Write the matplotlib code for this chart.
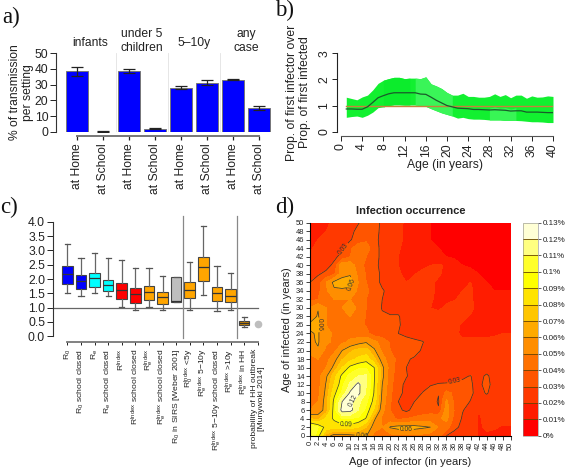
import colorsys
import numpy as np
import matplotlib
matplotlib.use('Agg')
import matplotlib.pyplot as plt
from matplotlib.colors import ListedColormap, BoundaryNorm

plt.rcParams['font.family'] = ['Liberation Sans', 'DejaVu Sans']
plt.rcParams['mathtext.fontset'] = 'custom'
plt.rcParams['mathtext.rm'] = 'Liberation Sans'
plt.rcParams['mathtext.it'] = 'Liberation Sans'
plt.rcParams['mathtext.bf'] = 'Liberation Sans:bold'
plt.rcParams['mathtext.default'] = 'rm'

# ---- panel a
setting_labels = ['at Home', 'at School'] * 4
share_values = [38.5, 0.1, 38.5, 1.8, 28.0, 31.2, 33.0, 15.0]
share_low = [35.5, 0.0, 37.5, 1.5, 27.0, 29.5, 32.7, 13.7]
share_high = [41.0, 0.2, 40.0, 2.1, 29.0, 33.0, 33.5, 16.5]
group_labels = ['infants', 'under 5\nchildren', '5\u201310y', 'any\ncase']

# ---- panel b
ages = list(range(1, 41))
band_upper = [1.32, 1.27, 1.22, 1.33, 1.4, 1.6, 1.85, 1.97, 2.03, 2.08, 2.08, 2.03, 2.05, 2.05, 2.03, 2.1,
              1.83, 1.75, 1.65, 1.5, 1.4, 1.4, 1.47, 1.35, 1.35, 1.32, 1.32, 1.35, 1.45, 1.35, 1.42, 1.3,
              1.4, 1.4, 1.28, 1.37, 1.32, 1.33, 1.37, 1.35]
band_lower = [.55, .58, .6, .55, .63, .75, .92, .95, 1.0, 1.03, 1.03, 1.02, 1.02, 1.02, 1.0, .97, .88, .8,
              .72, .66, .6, .52, .55, .5, .48, .48, .47, .45, .45, .45, .43, .43, .43, .42, .4, .38, .38,
              .37, .35, .35]
ratio_mean = [.87, .87, .86, .86, .95, 1.12, 1.3, 1.38, 1.45, 1.49, 1.49, 1.49, 1.49, 1.49, 1.44, 1.43,
              1.32, 1.2, 1.1, 1.0, .95, .9, .89, .88, .85, .85, .84, .83, .84, .83, .82, .79, .8, .8,
              .75, .75, .75, .74, .73, .73]

# ---- panel c
box_labels = [r'$R_0$', r'$R_0$ school closed', r'$R_e$', r'$R_e$ school closed',
              r'$R^{Index}$', r'$R^{Index}$ school closed', r'$R_e^{Index}$',
              r'$R_e^{Index}$ school closed', r'$R_0$ in SIRS [Weber 2001]',
              r'$R_0^{Index}$ <5y', r'$R_e^{Index}$ 5$-$10y',
              r'$R_e^{Index}$ 5$-$10y school closed', r'$R_e^{Index}$ >10y',
              r'$R_e^{Index}$ in HH', 'probability of HH outbreak\n[Munywoki 2014]']
box_q1 = [1.84, 1.65, 1.73, 1.57, 1.30, 1.17, 1.27, 1.14, 1.20, 1.32, 1.94, 1.22, 1.18, 0.38]
box_med = [2.18, 1.92, 2.02, 1.80, 1.60, 1.48, 1.55, 1.38, 1.22, 1.63, 2.43, 1.50, 1.42, 0.47]
box_q3 = [2.45, 2.14, 2.22, 1.98, 1.87, 1.67, 1.77, 1.56, 2.08, 1.90, 2.78, 1.73, 1.64, 0.55]
box_lo = [1.50, 1.42, 1.50, 1.42, 1.03, 0.93, 1.02, 0.92, 1.20, 0.93, 1.45, 0.87, 0.93, 0.33]
box_hi = [3.23, 2.75, 2.90, 2.72, 2.65, 2.40, 2.40, 2.12, 2.08, 2.60, 3.85, 2.47, 2.20, 0.69]
box_colors = ['#0000FF', '#0000FF', '#00FFFF', '#00FFFF', '#FF0000', '#FF0000', '#FFA500', '#FFA500',
              '#BEBEBE', '#FFA500', '#FFA500', '#FFA500', '#FFA500', '#CD8500']
outbreak_point = 0.43

# ---- panel d (units of 0.01 %), rows from age 50 down to age 0
infector_ages = list(range(0, 51, 2))
infected_ages = list(range(50, -1, -2))
occurrence = [
 [1.5,1.5,1.8,2.2,2.4,2.6,2.95,3.3,3.4,2.8,2.5,2.3,1.8,1.5,1.2,1,1,.8,.8,.8,.8,.8,.8,.8,.8,.8],
 [1.5,1.6,2,2.4,2.6,2.8,3.2,3.6,3.3,2.8,2.5,2.2,1.8,1.5,1.2,1,1,.8,.8,.8,.8,.8,.8,.8,.8,.8],
 [1.7,2,2.3,2.5,2.7,2.9,3.5,3.8,3.3,2.7,2.5,2.2,1.8,1.5,1.2,1,1,.9,.8,.8,.8,.8,.8,.8,.8,.8],
 [1.9,2.2,2.4,2.6,2.8,3.8,4.6,4.6,3.3,2.8,2.5,2.1,1.7,1.5,1.3,1.1,1,.9,.8,.8,.8,.8,.8,.8,.8,.8],
 [2.1,2.3,2.5,2.8,3.3,4,4.3,4,3.3,2.8,2.4,2,1.7,1.5,1.4,1.3,1.2,1,.9,.8,.8,.8,.8,.8,.8,.8],
 [2.3,2.5,2.7,3.2,5.8,5.7,4.4,3.8,3.3,2.7,2.3,2,1.7,1.7,1.8,2,2.1,1.9,1.3,1,.9,.9,.8,.8,.8,.8],
 [2.6,2.9,3.2,3.8,5.6,5.9,4.8,3.9,3.4,2.8,2.5,2.1,1.8,1.95,2.2,2.2,2.2,1.6,1.3,1.2,1.2,1,.9,.9,.9,.9],
 [3,3.4,5,6.3,6.5,6.4,5,4,3.4,2.8,2.6,2.3,2,2.2,2.4,2.3,1.7,1.5,1.4,1.6,2,1.4,1,1,1,1],
 [3.4,3.7,4.8,5.8,5.8,5.7,4.8,4.2,3.6,3.1,2.7,2.5,2.3,2.3,2.4,2.2,1.8,1.7,1.7,2,2.2,1.5,1.1,1,1,1],
 [3.7,4,4.6,5,5,5,4.6,4,3.6,3,2.7,2.5,2.4,2.3,2.3,2.1,1.8,1.9,1.95,2.2,2.2,1.4,1.2,1.1,1.1,1.1],
 [5,5.95,5,4.6,5,5.5,4.8,4,3.4,2.95,2.8,2.6,2.4,2.3,2.2,2,1.9,2.1,2.3,2.4,2.3,1.6,1.3,1.2,1.2,1.2],
 [5.5,6.1,5,4.6,4.8,5,4.6,3.9,3.3,3.1,3.05,3.1,2.5,2.4,2.2,2.1,2.2,2.4,2.4,2.2,1.9,1.5,1.4,1.4,1.3,1.3],
 [6.2,6.2,5,4.8,4.6,4.6,4.5,3.9,3.2,3.2,3.3,3.1,2.7,2.5,2.4,2.3,2.4,2.4,2.2,1.9,1.7,1.6,1.6,1.6,1.6,1.5],
 [5.9,6.1,5.2,4.9,4.7,4.6,4.4,4.3,3.5,3.5,3.3,3,2.8,2.6,2.5,2.5,2.4,2.3,2.1,1.9,1.9,1.9,1.9,1.95,2,2],
 [5.8,6.1,5.2,4.8,4.8,5.2,5.6,5.9,5.3,4.5,3.9,3.05,3.3,3.2,3.05,2.7,2.6,2.4,2.1,2.1,2.1,2.1,2.1,2.1,2.1,2.1],
 [5.2,5.9,4.7,4.7,6,6.8,7.3,7.4,6.2,4.8,4,3.5,3.5,3.3,2.9,2.6,2.5,2.4,2.3,2.2,2.2,2.2,2.3,2.3,2.3,2.3],
 [4.8,5,4.6,5.6,6.9,7.6,8.2,8.6,7.2,5.5,4.3,3.8,3.1,2.9,2.8,2.7,2.7,2.4,2.3,2.2,2.3,2.3,2.3,2.3,2.3,2.3],
 [4.6,4.7,5,6.3,8,9.3,9.8,9.9,9,6.3,4.5,3.6,3,2.8,2.7,2.7,2.9,2.5,2.4,2.4,2.3,2.3,2.4,2.4,2.4,2.4],
 [4.5,4.6,5.8,7.6,9.3,10.3,11,11.2,9.1,6.3,4.4,3.4,3.05,2.7,2.7,2.7,2.7,2.6,2.8,2.9,3.03,2.6,3.2,2.5,2.4,2.4],
 [4.5,4.6,6.1,8,9.7,11.2,12.3,11,9,6,4.3,3.3,2.8,2.7,2.8,2.95,3.05,3.1,3.1,3.15,3.1,2.7,3.4,2.5,2.5,2.5],
 [4.5,4.7,6.3,8.7,10.2,12.2,12.3,10.9,8.9,5.8,4.2,3.2,2.8,2.7,3.02,3.3,3.05,4.3,3.8,3.5,3.2,2.6,3.1,2.5,2.5,2.5],
 [4.6,5,6.5,9.3,12,12.3,11.3,10.2,8.6,5.6,4.1,3,2.7,3,3.4,3.5,2.9,5.2,3.8,3.4,2.95,2.3,2.4,2.5,2.5,2.5],
 [5,5.4,6.4,9.5,12.5,12.4,11,9.7,7.8,5.3,4,3.2,2.8,3.3,3.6,3.7,3.1,5.5,3.9,3.05,2.7,2,2.2,2.4,2.4,2.4],
 [7,6.6,8.2,9.2,10,10,9.8,8.9,6.2,4.8,4.3,3.8,4,4.2,4.3,4.4,4.8,5.3,3.6,2.9,2.6,1.9,2.2,2.3,2.3,2.3],
 [11,10,8.6,8.3,8.5,8.5,8,7,5.5,5,6.1,6.4,6.4,6.4,6.2,6,4.9,4.5,3.2,2.8,2.5,1.9,2.1,2.1,1.9,1.9],
 [11,9.5,6.5,5.6,5.5,5.7,5.9,6.1,4.6,4.6,4.7,4.8,4.7,4.8,4.7,4.5,4.5,3,2.7,2.6,2.5,1.9,1.9,1.7,1.7,1.7],
]
occurrence_levels = list(range(0, 14))

W, H = 567.0, 467.0
GREY = '#555555'
TXT = '#222222'


def px_axes(left, top, right, bottom):
    return fig.add_axes([left / W, 1 - bottom / H, (right - left) / W, (bottom - top) / H])


def heat_colors(n):
    j = n // 4
    i = n - j
    cols = [colorsys.hsv_to_rgb(h, 1, 1) for h in np.linspace(0, 1 / 6, i)]
    cols += [colorsys.hsv_to_rgb(1 / 6, s, 1) for s in np.linspace(1 - 1 / (2 * j), 1 / (2 * j), j)]
    return cols


fig = plt.figure(figsize=(5.67, 4.67), dpi=100)
for lab, x, y in [('a)', 2, 23), ('b)', 275, 16), ('c)', 0, 213), ('d)', 275, 213)]:
    fig.text(x / W, 1 - y / H, lab, family='Liberation Serif', fontsize=16.5, color='#111111')

# ---------- a
ax = px_axes(56, 53.3, 272, 131.7)
xa = np.arange(8)
ax.bar(xa, share_values, width=0.82, color='#0000FF', edgecolor='#777777', linewidth=0.7)
ax.errorbar(xa, share_values,
            yerr=[np.array(share_values) - share_low, np.array(share_high) - share_values],
            fmt='none', ecolor='#222222', elinewidth=0.9, capsize=4.5, capthick=0.9)
ax.set_xlim(-0.808, 7.5)
ax.set_ylim(0, 50)
for s in ('top', 'right'):
    ax.spines[s].set_visible(False)
ax.spines['left'].set_bounds(0, 50)
ax.spines['left'].set_color('#333333')
ax.spines['bottom'].set_position(('outward', 3.3))
ax.spines['bottom'].set_bounds(0, 7)
ax.spines['bottom'].set_color('#777777')
ax.spines['bottom'].set_linewidth(1.4)
ax.set_xticks(xa, setting_labels, rotation=90)
ax.set_yticks(range(0, 51, 10))
ax.tick_params(axis='y', labelsize=8.7, length=4, width=0.7, pad=1.5, colors=TXT)
ax.tick_params(axis='x', labelsize=8.7, length=3, width=0.9, pad=2, colors=TXT)
ax.set_ylabel('% of transmission\nper setting', fontsize=8.7, color=TXT, labelpad=0.5, linespacing=1.15)
for xv in (1.5, 3.5, 5.5):
    ax.axvline(xv, color='#E2E2E2', lw=0.6, zorder=0)
for i, g in enumerate(group_labels):
    ax.text(0.5 + 2 * i, 52.5 if '\n' not in g else 49.5, g, ha='center', va='bottom', fontsize=8.7,
            color=TXT, linespacing=1.2, clip_on=False)

# ---------- b
ax = px_axes(337, 53.3, 553, 131.7)
age = np.array(ages)
up = np.array(band_upper)
lo = np.array(band_lower)
ax.fill_between(age, lo, up, color='#12F030', lw=0)
ax.fill_between(age, lo, up, where=(age >= 14) & (age <= 21), color='#3AF558', lw=0)
ax.fill_between(age, lo, up, where=(age >= 8) & (age <= 13), color='#0CEC2C', lw=0)
ax.fill_between(age, lo, (lo + up) / 2, where=(age >= 28) & (age <= 33), color='#38F555', lw=0)
ax.plot([1, 40], [1, 1], color='#C8803C', lw=1.0)
ax.plot(age, ratio_mean, color='#1A5A2A', lw=0.9)
ax.set_xlim(-0.75, 40)
ax.set_ylim(0, 3)
for s in ('top', 'right'):
    ax.spines[s].set_visible(False)
ax.spines['left'].set_bounds(0, 3)
ax.spines['left'].set_color('#222222')
ax.spines['bottom'].set_position(('outward', 3.3))
ax.spines['bottom'].set_bounds(0, 40)
ax.spines['bottom'].set_color('#555555')
ax.set_xticks(range(0, 41, 4))
ax.set_yticks(range(4))
ax.tick_params(axis='x', labelsize=8.7, length=3.5, width=0.7, pad=1.5, labelrotation=90, colors=TXT)
ax.tick_params(axis='y', labelsize=8.7, length=3.5, width=0.7, pad=1.5, labelrotation=90, colors=TXT)
for t in ax.get_yticklabels():
    t.set_va('center')
ax.set_xlabel('Age (in years)', fontsize=8.7, color=TXT, labelpad=1.5)
ax.set_ylabel('Prop. of first infector over\nProp. of first infected', fontsize=8.7, color=TXT,
              labelpad=5, linespacing=1.15)

# ---------- c
ax = px_axes(52.7, 221.7, 258, 336.3)
xc = np.arange(1, 16)
stats = [dict(med=m, q1=a, q3=b, whislo=l, whishi=h, fliers=[])
         for m, a, b, l, h in zip(box_med, box_q1, box_q3, box_lo, box_hi)]
bp = ax.bxp(stats, positions=xc[:14], widths=0.78, patch_artist=True, manage_ticks=False,
            whiskerprops=dict(color='#666666', lw=0.9), capprops=dict(color='#555555', lw=0.9),
            medianprops=dict(color='#333333', lw=0.9), boxprops=dict(edgecolor='#444444', lw=0.8), capwidths=0.38)
for patch, c in zip(bp['boxes'], box_colors):
    patch.set_facecolor(c)
ax.plot(xc[14:], [outbreak_point], 'o', color='#BEBEBE', ms=4.5, clip_on=False)
ax.set_xlim(1 - 14.6 / 13.5 * 1.0, 15.0 + 0.02)
ax.set_ylim(0, 4)
ax.axhline(1, color='#666666', lw=0.9, clip_on=False)
for xv in (9.5, 13.5):
    ax.plot([xv, xv], [-0.06, 4.2], color='#888888', lw=0.9, clip_on=False)
for s in ('top', 'right'):
    ax.spines[s].set_visible(False)
ax.spines['left'].set_bounds(0, 4)
ax.spines['left'].set_color('#333333')
ax.spines['bottom'].set_position(('outward', 4.4))
ax.spines['bottom'].set_bounds(1, 15)
ax.spines['bottom'].set_color('#777777')
ax.spines['bottom'].set_linewidth(1.3)
ax.set_yticks(np.arange(0, 4.1, 0.5), [f'{v:.1f}' for v in np.arange(0, 4.1, 0.5)])
ax.tick_params(axis='y', labelsize=8.7, length=4, width=0.7, pad=1.5, colors=TXT)
ax.set_xticks(xc, box_labels, rotation=90, ha='center', va='top', linespacing=1.05)
ax.tick_params(axis='x', labelsize=6.1, length=2.5, width=0.7, pad=2, colors=TXT)

# ---------- d
ax = px_axes(310, 222.7, 510.7, 435.7)
Z = np.array(occurrence, dtype=float)
levels = np.array(occurrence_levels, dtype=float)
cmap = ListedColormap(heat_colors(13))
norm = BoundaryNorm(levels, 13)
cf = ax.contourf(infector_ages, infected_ages, Z, levels=levels, cmap=cmap, norm=norm, extend='neither')
cs = ax.contour(infector_ages, infected_ages, Z, levels=[3, 6, 9, 12], colors='#333333', linewidths=0.5)
ax.clabel(cs, fmt=lambda v: f'{v / 100:.2f}', fontsize=4.8,
          manual=[(8, 44), (36, 12.8), (2, 26), (9.5, 36), (24, 1.6), (13, 0.4), (9, 3.5), (10.5, 8.5)],
          inline=True, inline_spacing=1)
ax.set_xlim(0, 50)
ax.set_ylim(0, 50)
for s in ('top', 'right'):
    ax.spines[s].set_visible(False)
ax.set_xticks(infector_ages)
ax.set_yticks(infector_ages)
ax.tick_params(axis='x', labelsize=5.4, length=3, width=0.6, pad=1, labelrotation=90, colors=TXT)
ax.tick_params(axis='y', labelsize=5.4, length=3, width=0.6, pad=1, colors=TXT)
ax.set_xlabel('Age of infector (in years)', fontsize=8, color=TXT, labelpad=5)
ax.set_ylabel('Age of infected (in years)', fontsize=8, color=TXT, labelpad=3)
ax.set_title('Infection occurrence', fontsize=8, fontweight='bold', color=TXT, pad=6)

cax = px_axes(523, 222.7, 538, 435.7)
cb = fig.colorbar(cf, cax=cax, ticks=levels, spacing='uniform')
cb.ax.set_yticklabels([f'{v:g}%' if v == 0 else f'{v / 100:.2f}%'.replace('0.10%', '0.1%') for v in levels])
cb.ax.tick_params(labelsize=5.8, length=2.5, width=0.5, pad=1, colors=TXT)
cb.outline.set_edgecolor('#888888')
cb.outline.set_linewidth(0.4)
for v in levels[1:-1]:
    cb.ax.axhline(v, color='#664400', lw=0.6)

fig.savefig('out.png', dpi=100)
